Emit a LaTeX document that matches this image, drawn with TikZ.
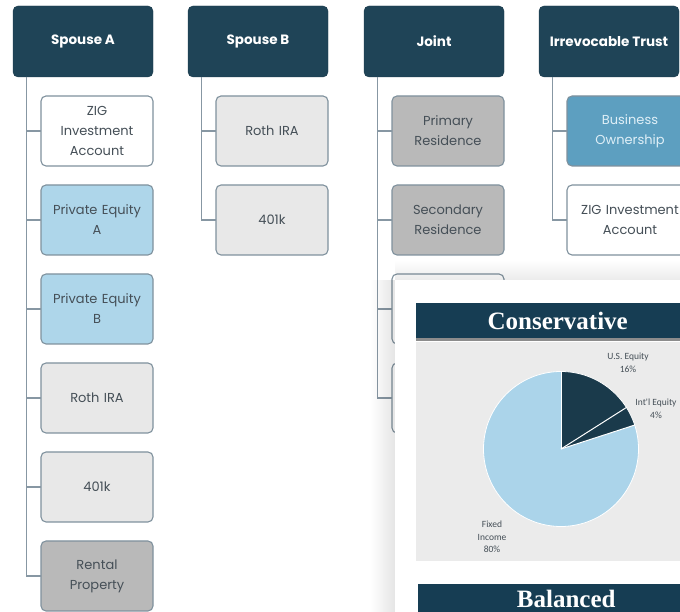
\documentclass[tikz,border=0pt]{standalone}
\usepackage{fontspec}
\setmainfont{Poppins}
\newfontfamily\titlefont{Liberation Serif}
\newfontfamily\chartfont{Carlito}
\usetikzlibrary{positioning,calc,fadings}
\definecolor{navy}{HTML}{1F4457}
\definecolor{edge}{HTML}{7F919D}
\definecolor{wire}{HTML}{8797A3}
\definecolor{pale}{HTML}{AED6EA}
\definecolor{fog}{HTML}{E8E8E8}
\definecolor{stone}{HTML}{B9B9B9}
\definecolor{steel}{HTML}{5D9FC0}
\definecolor{ink}{HTML}{454F57}
\definecolor{barnavy}{HTML}{163D53}
\definecolor{piedark}{HTML}{1A3A4B}
\definecolor{pielight}{HTML}{ABD4EA}
\definecolor{chartbg}{HTML}{EBEBEB}
\tikzfading[name=shl, left color=transparent!100, right color=transparent!0]
\tikzfading[name=sht, top color=transparent!100, bottom color=transparent!0]

\begin{document}
\begin{tikzpicture}[x=1pt,y=1pt,
  owner/.style={rounded corners=5pt,fill=navy,draw=navy!85!black,minimum width=140pt,
    minimum height=71pt,outer sep=0pt,text=white,font=\bfseries\fontsize{13.5}{16}\selectfont},
  asset/.style={rounded corners=5pt,draw=edge,line width=1.1pt,fill=white,minimum height=70pt,
    outer sep=0pt,text width=100pt,inner xsep=6pt,align=center,text=ink,
    font=\fontsize{13}{20}\selectfont},
  wide/.style={text width=114pt},
  conn/.style={wire,line width=1.4pt},
  bar/.style={fill=barnavy,text=white,inner sep=0pt,
    font=\titlefont\bfseries\fontsize{25}{28}\selectfont},
  lbl/.style={text=ink,align=center,inner sep=0pt,font=\chartfont\fontsize{9.5}{12.5}\selectfont}]
  \useasboundingbox (0,0) rectangle (680,612);
  \clip (0,0) rectangle (680,612);

  % owners
  \node[owner] (sa) at (83,570.5) {Spouse A};
  \node[owner,right=35pt of sa] (sb) {Spouse B};
  \node[owner,right=36pt of sb] (jt) {Joint};
  \node[owner,right=35pt of jt] (tr) {Irrevocable Trust};

  % spouse A
  \node[asset,below right=19pt and 28pt of sa.south west] (sa1) {ZIG\\Investment\\Account};
  \node[asset,fill=pale,below=19pt of sa1] (sa2) {Private Equity\\A};
  \node[asset,fill=pale,below=19pt of sa2] (sa3) {Private Equity\\B};
  \node[asset,fill=fog,below=19pt of sa3] (sa4) {Roth IRA};
  \node[asset,fill=fog,below=19pt of sa4] (sa5) {401k};
  \node[asset,fill=stone,below=19pt of sa5] (sa6) {Rental\\Property};

  % spouse B
  \node[asset,fill=fog,below right=19pt and 28pt of sb.south west] (sb1) {Roth IRA};
  \node[asset,fill=fog,below=19pt of sb1] (sb2) {401k};

  % joint
  \node[asset,fill=stone,below right=19pt and 28pt of jt.south west] (jt1) {Primary\\Residence};
  \node[asset,fill=stone,below=19pt of jt1] (jt2) {Secondary\\Residence};
  \node[asset,below=19pt of jt2] (jt3) {};
  \node[asset,below=19pt of jt3] (jt4) {};

  % trust
  \node[asset,wide,fill=steel,text=pale!40!white,below right=19pt and 28pt of tr.south west] (tr1) {Business\\Ownership};
  \node[asset,wide,below=19pt of tr1] (tr2) {ZIG Investment\\Account};

  % connectors
  \foreach \k in {1,...,6} \draw[conn] ($(sa.south west)+(13.5pt,0)$) |- (sa\k);
  \foreach \k in {1,2} \draw[conn] ($(sb.south west)+(13.5pt,0)$) |- (sb\k);
  \foreach \k in {1,...,4} \draw[conn] ($(jt.south west)+(13.5pt,0)$) |- (jt\k);
  \foreach \k in {1,2} \draw[conn] ($(tr.south west)+(13.5pt,0)$) |- (tr\k);

  % allocation card
  \fill[black,opacity=.10,path fading=shl] (370,0) rectangle (395,332);
  \fill[black,opacity=.08,path fading=sht] (395,332) rectangle (680,352);
  \fill[white] (395,0) rectangle (680,332);
  \node[bar,minimum width=283pt,minimum height=35pt,anchor=north west] (cons) at (416,309) {Conservative};
  \fill[black!45] ($(cons.south west)+(0,-3pt)$) rectangle (cons.south east);
  \node[fill=chartbg,minimum width=283pt,minimum height=219pt,inner sep=0pt,
    below=3pt of cons.south west,anchor=north west] (plot) {};

  % pie
  \coordinate (pc) at (561,163);
  \fill[pielight] (pc) circle[radius=77.5pt];
  \fill[piedark] (pc) -- ++(90:77.5pt) arc[start angle=90,end angle=18,radius=77.5pt] -- cycle;
  \draw[white,line width=.8pt] (pc) circle[radius=77.5pt];
  \foreach \a in {90,32.4,18} \draw[white,line width=1pt] (pc) -- ++(\a:77.5pt);
  \node[lbl] (usq) at (628,249) {U.S. Equity\\16\%};
  \node[lbl] (intl) at (656,203.5) {Int'l Equity\\4\%};
  \node[lbl] (fixd) at (492,75) {Fixed\\Income\\80\%};

  \node[bar,minimum width=296pt,minimum height=30pt,anchor=north west] (bal) at (418,28) {Balanced};
\end{tikzpicture}
\end{document}
